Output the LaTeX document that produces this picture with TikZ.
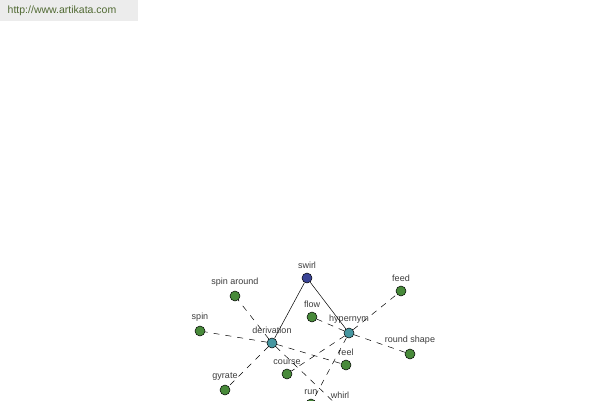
\documentclass[tikz,border=0pt]{standalone}
\usepackage{fontspec}
\setmainfont{Liberation Sans}
\definecolor{leafgreen}{RGB}{72,138,58}
\definecolor{rootblue}{RGB}{58,68,150}
\definecolor{relteal}{RGB}{70,150,160}
\definecolor{labelgray}{RGB}{60,60,60}
\definecolor{markgray}{RGB}{236,236,236}
\definecolor{markgreen}{RGB}{80,105,50}
\begin{document}
\begin{tikzpicture}
    [x=1pt,y=-1pt,
     dot/.style={circle,draw=black,line width=0.5pt,minimum size=10pt,inner sep=0pt},
     word/.style={dot,fill=leafgreen},
     rel/.style={dot,fill=relteal},
     root/.style={dot,fill=rootblue},
     tag/.style={text=labelgray,font=\fontsize{9}{10}\selectfont,inner sep=1pt,above=3pt},
     link/.style={line width=0.5pt,dash pattern=on 6pt off 6pt}]
    \useasboundingbox (0,0) rectangle (600,400);
    \fill [markgray] (0,0) rectangle (138,21);
    \node (site) at (62,11) [text=markgreen,font=\fontsize{10.5}{12}\selectfont] {http://www.artikata.com};
    \node (swirl) at (307,278) [root] {};
    \node (derivation) at (272,343) [rel] {};
    \node (hypernym) at (349,333) [rel] {};
    \node (spinaround) at (235,296) [word] {};
    \node (spin) at (200,331) [word] {};
    \node (gyrate) at (225,390) [word] {};
    \node (flow) at (312,317) [word] {};
    \node (feed) at (401,291) [word] {};
    \node (roundshape) at (410,354) [word] {};
    \node (reel) at (346,365) [word] {};
    \node (course) at (287,374) [word] {};
    \node (run) at (311,404) [word] {};
    \node (whirl) at (340,408) [word] {};
    \node [tag] at (swirl.north) {swirl};
    \node [tag] at (derivation.north) {derivation};
    \node [tag] at (hypernym.north) {hypernym};
    \node [tag] at (spinaround.north) {spin around};
    \node [tag] at (spin.north) {spin};
    \node [tag] at (gyrate.north) {gyrate};
    \node [tag] at (flow.north) {flow};
    \node [tag] at (feed.north) {feed};
    \node [tag] at (roundshape.north) {round shape};
    \node [tag] at (reel.north) {reel};
    \node [tag] at (course.north) {course};
    \node [tag] at (run.north) {run};
    \node [tag] at (whirl.north) {whirl};
    \draw [line width=0.5pt] (swirl) to (derivation);
    \draw [line width=0.5pt] (swirl) to (hypernym);
    \draw [link] (hypernym) to (feed);
    \draw [link] (hypernym) to (roundshape);
    \draw [link] (hypernym) to (flow);
    \draw [link] (hypernym) to (course);
    \draw [link] (hypernym) to (run);
    \draw [link] (derivation) to (spinaround);
    \draw [link] (derivation) to (spin);
    \draw [link] (derivation) to (gyrate);
    \draw [link] (derivation) to (reel);
    \draw [link] (derivation) to (whirl);
  \end{tikzpicture}
\end{document}
